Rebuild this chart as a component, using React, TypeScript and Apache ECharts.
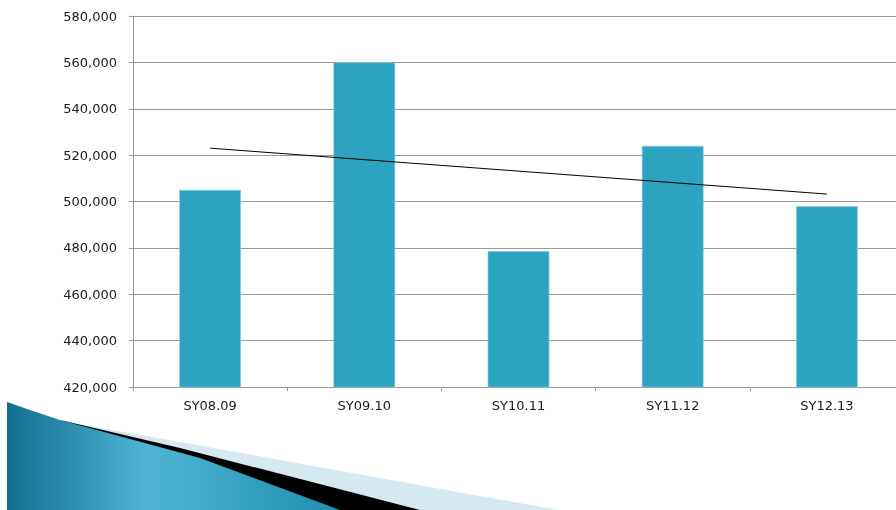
import React, { useEffect, useRef } from "react";
import * as echarts from "echarts";

const categories = ["SY08.09", "SY09.10", "SY10.11", "SY11.12", "SY12.13"];
const enrollment = [505000, 560000, 478600, 524000, 498000];
const trend = [523000, null, null, null, 503200];
const yMin = 420000;
const yMax = 580000;
const yStep = 20000;

export default function App() {
  const ref = useRef<HTMLDivElement>(null);
  useEffect(() => {
    if (!ref.current) return;
    const chart = echarts.init(ref.current, null, { renderer: "svg" });
    const font = "DejaVu Sans";
    chart.setOption({
      animation: false,
      grid: { left: 133, right: 0, top: 16, bottom: 123 },
      xAxis: {
        type: "category",
        data: categories,
        axisLine: { show: true, lineStyle: { color: "#9a9a9a", width: 1 } },
        axisTick: { show: true, length: 4, alignWithLabel: false, lineStyle: { color: "#9a9a9a" } },
        axisLabel: { color: "#1a1a1a", fontFamily: font, fontSize: 13, margin: 12 },
        splitLine: { show: false },
      },
      yAxis: {
        type: "value",
        min: yMin,
        max: yMax,
        interval: yStep,
        axisLine: { show: true, lineStyle: { color: "#9a9a9a", width: 1 } },
        axisTick: { show: true, length: 4, lineStyle: { color: "#9a9a9a" } },
        axisLabel: {
          color: "#1a1a1a",
          fontFamily: font,
          fontSize: 13,
          margin: 16,
          formatter: (v: number) => v.toLocaleString("en-US"),
        },
        splitLine: { show: true, lineStyle: { color: "#9a9a9a", width: 1 } },
      },
      series: [
        {
          type: "bar",
          data: enrollment,
          barWidth: "40%",
          itemStyle: { color: "#2ca3c0", borderColor: "#8fd0e0", borderWidth: 0.6 },
        },
        {
          type: "line",
          data: trend,
          connectNulls: true,
          symbol: "none",
          lineStyle: { color: "#000000", width: 1 },
          z: 5,
        },
      ],
      graphic: [
        {
          type: "polygon",
          shape: { points: [[62, 421], [180, 442], [430, 487], [558, 510], [60, 510]] },
          style: { fill: "#d6e9f0" },
          z: 100,
        },
        {
          type: "polygon",
          shape: { points: [[60, 420], [180, 448], [420, 510], [300, 510]] },
          style: { fill: "#000000" },
          z: 101,
        },
        {
          type: "polygon",
          shape: {
            points: [[7, 402], [30, 410], [60, 420], [200, 458], [340, 510], [7, 510]],
          },
          style: {
            fill: new echarts.graphic.LinearGradient(0, 0, 1, 0, [
              { offset: 0, color: "#106f90" },
              { offset: 0.42, color: "#4fb4d4" },
              { offset: 1, color: "#1e8fb0" },
            ]),
          },
          z: 102,
        },
      ],
    });
    return () => chart.dispose();
  }, []);
  return (
    <div
      ref={ref}
      style={{ position: "fixed", left: 0, top: 0, width: 904, height: 510 }}
    />
  );
}
